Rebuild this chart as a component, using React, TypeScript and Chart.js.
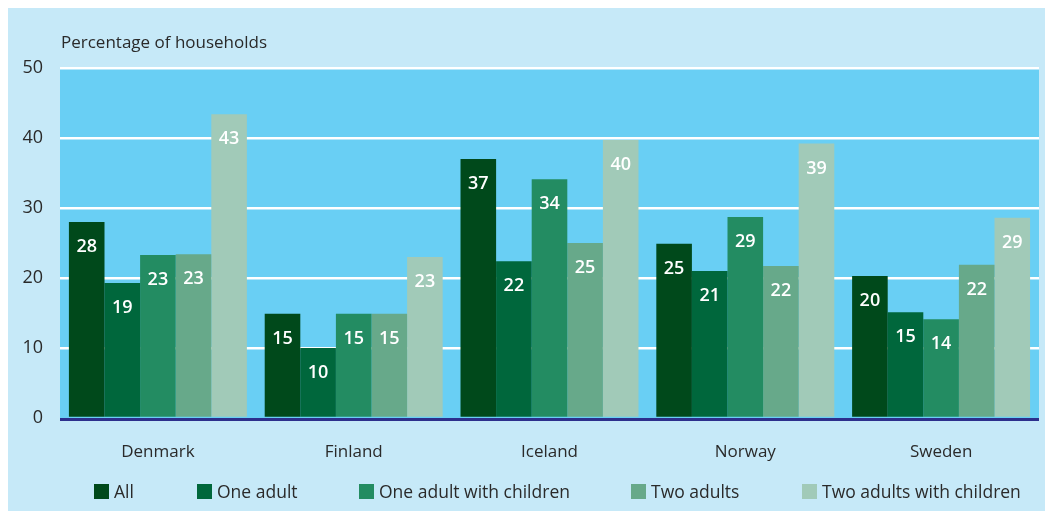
import React, { useEffect, useRef } from "react";
import { Chart, registerables } from "chart.js";

Chart.register(...registerables);

const categories = ["Denmark", "Finland", "Iceland", "Norway", "Sweden"];
const seriesNames = ["All", "One adult", "One adult with children", "Two adults", "Two adults with children"];
const allValues = [28.0, 14.9, 37.0, 24.9, 20.3];
const oneAdult = [19.3, 10.0, 22.4, 21.0, 15.1];
const oneAdultChildren = [23.3, 14.9, 34.1, 28.7, 14.1];
const twoAdults = [23.4, 14.9, 25.0, 21.7, 21.9];
const twoAdultsChildren = [43.4, 23.0, 39.7, 39.2, 28.6];
const yTicks = [0, 10, 20, 30, 40, 50];
const yTitle = "Percentage of households";

const seriesValues = [allValues, oneAdult, oneAdultChildren, twoAdults, twoAdultsChildren];
const colors = ["#00491b", "#00673c", "#238c62", "#67a98a", "#a1cab8"];
const legendX = [86, 189, 351, 623, 794];

const FONT = "'Open Sans', sans-serif";
const OUTER_BG = "#c6e9f8";
const PLOT_BG = "#69cff4";
const TEXT = "#2a2a2a";

const decorPlugin = {
  id: "decor",
  beforeDraw(chart: any) {
    const { ctx, chartArea: a, width, height } = chart;
    ctx.save();
    ctx.fillStyle = OUTER_BG;
    ctx.fillRect(0, 0, width, height);
    ctx.fillStyle = PLOT_BG;
    ctx.fillRect(a.left, a.top, a.right - a.left, a.bottom - a.top);
    ctx.restore();
  },
  afterDatasetsDraw(chart: any) {
    const { ctx, chartArea: a } = chart;
    ctx.save();
    // zero line
    const y0 = chart.scales.y.getPixelForValue(0);
    ctx.strokeStyle = "#2c2f8c";
    ctx.lineWidth = 3;
    ctx.beginPath();
    ctx.moveTo(a.left, y0 + 1.5);
    ctx.lineTo(a.right, y0 + 1.5);
    ctx.stroke();
    // value labels
    ctx.fillStyle = "#ffffff";
    ctx.font = `600 18px ${FONT}`;
    ctx.textAlign = "center";
    ctx.textBaseline = "middle";
    chart.data.datasets.forEach((ds: any, di: number) => {
      const meta = chart.getDatasetMeta(di);
      meta.data.forEach((bar: any, i: number) => {
        ctx.fillText(String(Math.round(ds.data[i])), bar.x, bar.y + 25);
      });
    });
    // title
    ctx.fillStyle = TEXT;
    ctx.font = `17px ${FONT}`;
    ctx.textAlign = "left";
    ctx.textBaseline = "alphabetic";
    ctx.fillText(yTitle, 53, 41);
    // legend
    ctx.font = `17.5px ${FONT}`;
    chart.data.datasets.forEach((ds: any, di: number) => {
      const x = legendX[di];
      ctx.fillStyle = ds.backgroundColor;
      ctx.fillRect(x, 477, 15, 15);
      ctx.fillStyle = TEXT;
      ctx.fillText(ds.label, x + 20, 491);
    });
    ctx.restore();
  },
};

export default function App() {
  const ref = useRef<HTMLCanvasElement>(null);
  useEffect(() => {
    if (!ref.current) return;
    const chart = new Chart(ref.current, {
      type: "bar",
      data: {
        labels: categories,
        datasets: seriesNames.map((name, i) => ({
          label: name,
          data: seriesValues[i],
          backgroundColor: colors[i],
          borderWidth: 0,
          categoryPercentage: 0.909,
          barPercentage: 1.0,
        })),
      },
      options: {
        responsive: false,
        animation: false,
        layout: { padding: { left: 0, right: 14, top: 61, bottom: 0 } },
        plugins: {
          legend: { display: false },
          tooltip: { enabled: false },
          title: { display: false },
        },
        scales: {
          x: {
            grid: { display: false, drawTicks: false },
            border: { display: false },
            ticks: {
              color: TEXT,
              font: { family: FONT, size: 17 },
              padding: 24,
            },
            afterFit: (s: any) => {
              s.height = 93;
            },
          },
          y: {
            min: 0,
            max: 50,
            afterBuildTicks: (s: any) => {
              s.ticks = yTicks.map((v) => ({ value: v }));
            },
            grid: {
              color: (c: any) => (c.tick && c.tick.value === 0 ? "rgba(0,0,0,0)" : "#ffffff"),
              lineWidth: 2.5,
              drawTicks: false,
            },
            border: { display: false },
            ticks: {
              color: TEXT,
              font: { family: FONT, size: 18 },
              padding: 17,
            },
            afterFit: (s: any) => {
              s.width = 52;
            },
          },
        },
      },
      plugins: [decorPlugin],
    });
    return () => chart.destroy();
  }, []);
  return (
    <div style={{ marginTop: -1, width: 1045, height: 504 }}>
      <canvas ref={ref} width={1045} height={504} style={{ display: "block" }} />
    </div>
  );
}
